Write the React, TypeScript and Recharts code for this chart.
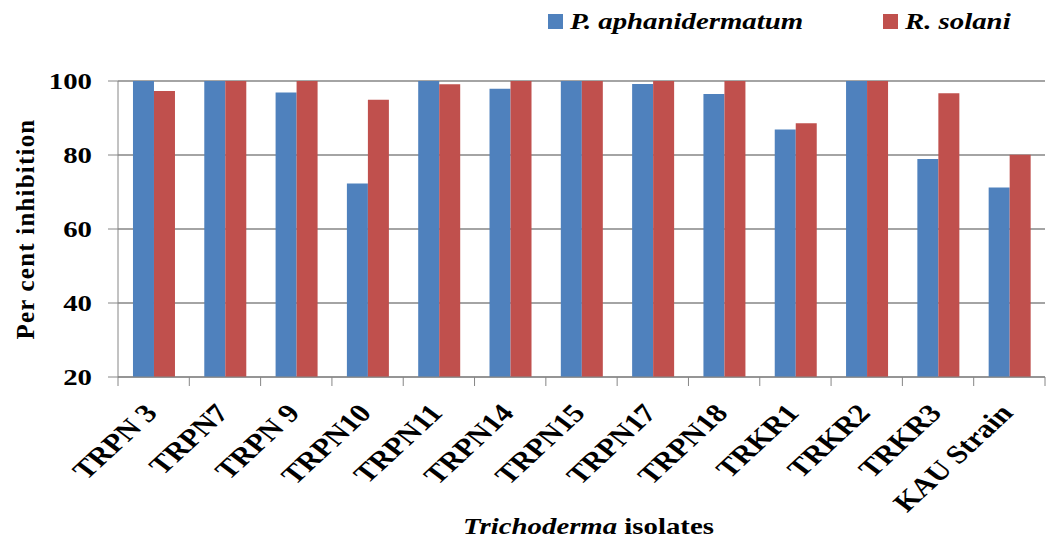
import React from 'react';
import { Bar, BarChart, CartesianGrid, XAxis, YAxis, Legend, Label } from 'recharts';

const CATEGORIES = ['TRPN 3', 'TRPN7', 'TRPN 9', 'TRPN10', 'TRPN11', 'TRPN14', 'TRPN15', 'TRPN17', 'TRPN18', 'TRKR1', 'TRKR2', 'TRKR3', 'KAU Strain'];
const APHANIDERMATUM = [100, 100, 96.9, 72.3, 100, 97.9, 100, 99.2, 96.5, 86.9, 100, 78.9, 71.2];
const SOLANI = [97.3, 100, 100, 94.9, 99.1, 100, 100, 100, 100, 88.6, 100, 96.7, 80.1];
const SERIES_NAMES = ['P. aphanidermatum', 'R. solani'];
const Y_TICKS = [20, 40, 60, 80, 100];

const BLUE = '#4F81BD';
const RED = '#C0504D';
const AXIS = '#868686';
const FONT = "'Times New Roman', serif";
// the original picture is stretched sideways, so its text is wider than usual
const STRETCH = 1.2;

const W = 1048;
const H = 542;
const MARGIN = { top: 81, right: 3, bottom: 0, left: 0 };
const Y_AXIS_W = 118;
const X_AXIS_H = 165;
const BAND = (W - MARGIN.left - MARGIN.right - Y_AXIS_W) / CATEGORIES.length;

const data = CATEGORIES.map((name, i) => ({
  name,
  aphani: APHANIDERMATUM[i],
  solani: SOLANI[i],
}));

const IsolateTick = (props: any) => {
  const { x, y, payload, index } = props;
  const half = BAND / 2;
  const ax = x + 5;
  const ay = y + 37;
  return (
    <g>
      <line x1={x - half} y1={y} x2={x - half} y2={y + 9} stroke={AXIS} />
      {index === CATEGORIES.length - 1 && (
        <line x1={x + half} y1={y} x2={x + half} y2={y + 9} stroke={AXIS} />
      )}
      <text
        x={0}
        y={0}
        transform={`translate(${ax}, ${ay}) scale(${STRETCH}, 1) rotate(-48)`}
        textAnchor="end"
        fontFamily={FONT}
        fontWeight="bold"
        fontSize={26}
        fill="#000"
      >
        {payload.value}
      </text>
    </g>
  );
};

const PercentTick = (props: any) => {
  const { x, y, payload } = props;
  return (
    <text
      x={0}
      y={0}
      dy="0.35em"
      transform={`translate(${x}, ${y}) scale(${STRETCH}, 1)`}
      textAnchor="end"
      fontFamily={FONT}
      fontWeight="bold"
      fontSize={24}
      fill="#000"
    >
      {payload.value}
    </text>
  );
};

const XTitle = (props: any) => {
  const { viewBox } = props;
  const cx = viewBox.x + viewBox.width / 2 + 7;
  const cy = viewBox.y + 157;
  return (
    <text
      x={0}
      y={0}
      transform={`translate(${cx}, ${cy}) scale(${STRETCH}, 1)`}
      textAnchor="middle"
      fontFamily={FONT}
      fontWeight="bold"
      fontSize={24}
      fill="#000"
    >
      <tspan fontStyle="italic">Trichoderma</tspan>
      <tspan> isolates</tspan>
    </text>
  );
};

const SeriesLegend = () => {
  const colors = [BLUE, RED];
  return (
    <div style={{ position: 'relative', height: 34, fontFamily: FONT }}>
      {SERIES_NAMES.map((s, i) => (
        <div key={s} style={{ position: 'absolute', left: i === 0 ? 0 : 335, top: 0, display: 'flex', alignItems: 'center' }}>
          <span style={{ width: 15, height: 15, background: colors[i], display: 'inline-block', marginRight: 7 }} />
          <span
            style={{
              fontSize: 24,
              fontWeight: 'bold',
              fontStyle: 'italic',
              color: '#000',
              display: 'inline-block',
              transform: `scaleX(${STRETCH})`,
              transformOrigin: 'left center',
              whiteSpace: 'nowrap',
            }}
          >
            {s}
          </span>
        </div>
      ))}
    </div>
  );
};

export default function App() {
  return (
    <div style={{ position: 'absolute', left: 0, top: 0, background: '#fff' }}>
      <BarChart width={W} height={H} data={data} margin={MARGIN} barCategoryGap="21%" barGap={0}>
        <CartesianGrid vertical={false} stroke={AXIS} strokeWidth={1.5} />
        <XAxis
          dataKey="name"
          height={X_AXIS_H}
          interval={0}
          tickLine={false}
          tickSize={0}
          tickMargin={0}
          stroke={AXIS}
          tick={<IsolateTick />}
        >
          <Label content={<XTitle />} />
        </XAxis>
        <YAxis
          width={Y_AXIS_W}
          domain={[20, 100]}
          ticks={Y_TICKS}
          allowDataOverflow
          stroke={AXIS}
          tickSize={10}
          tickMargin={16}
          tick={<PercentTick />}
        >
          <Label
            value="Per cent inhibition"
            angle={-90}
            position="insideLeft"
            offset={25}
            fontFamily={FONT}
            fontWeight="bold"
            fontSize={25}
            fill="#000"
            style={{ textAnchor: 'middle', letterSpacing: 1.2 }}
          />
        </YAxis>
        <Legend
          layout="horizontal"
          verticalAlign="middle"
          align="center"
          wrapperStyle={{ top: 8, left: 548, width: 500 }}
          content={<SeriesLegend />}
        />
        <Bar dataKey="aphani" name={SERIES_NAMES[0]} fill={BLUE} isAnimationActive={false} />
        <Bar dataKey="solani" name={SERIES_NAMES[1]} fill={RED} isAnimationActive={false} />
      </BarChart>
    </div>
  );
}
